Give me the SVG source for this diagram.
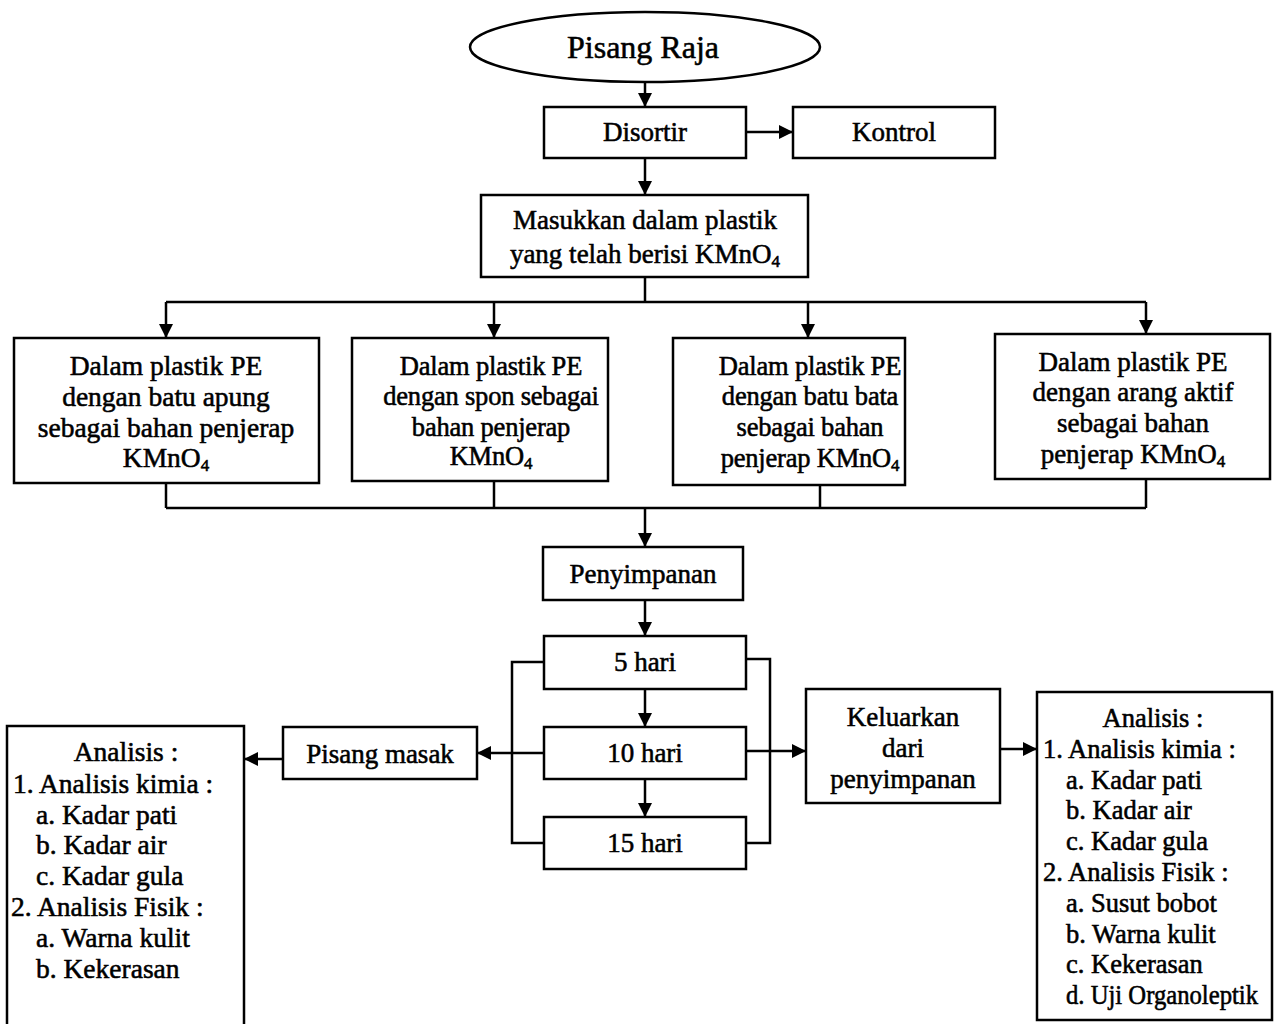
<svg xmlns="http://www.w3.org/2000/svg" width="1279" height="1024" viewBox="0 0 1279 1024">
<style>
.b{fill:#fff;stroke:#000;stroke-width:2.5}
.t{font-family:"Liberation Serif","Times New Roman",serif;font-size:27px;fill:#000;text-anchor:middle;stroke:#000;stroke-width:0.55}
.a{font-size:27.5px}
.r{font-size:26.5px}
.n{font-size:26.5px;letter-spacing:-0.2px}
.l{text-anchor:start}
.c{fill:none;stroke:#000;stroke-width:2.5}
.s{font-size:17px}
</style>
<defs>
<marker id="ah" viewBox="0 0 14 14" refX="14" refY="7" markerWidth="14" markerHeight="14" orient="auto" markerUnits="userSpaceOnUse"><path d="M0,0 L14,7 L0,14 z" fill="#000"/></marker>
</defs>
<rect width="1279" height="1024" fill="#fff"/>
<g id="connectors">
<line class="c" x1="645" y1="82" x2="645" y2="107" marker-end="url(#ah)"/>
<line class="c" x1="746" y1="132" x2="793" y2="132" marker-end="url(#ah)"/>
<line class="c" x1="645" y1="158" x2="645" y2="195" marker-end="url(#ah)"/>
<polyline class="c" points="645,277 645,302"/>
<line class="c" x1="166" y1="302" x2="1146" y2="302"/>
<line class="c" x1="166" y1="302" x2="166" y2="338" marker-end="url(#ah)"/>
<line class="c" x1="494" y1="302" x2="494" y2="338" marker-end="url(#ah)"/>
<line class="c" x1="808" y1="302" x2="808" y2="338" marker-end="url(#ah)"/>
<line class="c" x1="1146" y1="302" x2="1146" y2="334" marker-end="url(#ah)"/>
<line class="c" x1="166" y1="483" x2="166" y2="508"/>
<line class="c" x1="494" y1="481" x2="494" y2="508"/>
<line class="c" x1="820" y1="485" x2="820" y2="508"/>
<line class="c" x1="1146" y1="479" x2="1146" y2="508"/>
<line class="c" x1="166" y1="508" x2="1146" y2="508"/>
<line class="c" x1="645" y1="508" x2="645" y2="547" marker-end="url(#ah)"/>
<line class="c" x1="645" y1="600" x2="645" y2="636" marker-end="url(#ah)"/>
<line class="c" x1="645" y1="689" x2="645" y2="727" marker-end="url(#ah)"/>
<line class="c" x1="645" y1="779" x2="645" y2="817" marker-end="url(#ah)"/>
<polyline class="c" points="544,662 512,662 512,843 544,843"/>
<polyline class="c" points="746,659 770,659 770,843 746,843"/>
<line class="c" x1="544" y1="753" x2="477" y2="753" marker-end="url(#ah)"/>
<line class="c" x1="746" y1="751" x2="806" y2="751" marker-end="url(#ah)"/>
<line class="c" x1="283" y1="759" x2="244" y2="759" marker-end="url(#ah)"/>
<line class="c" x1="1000" y1="749" x2="1037" y2="749" marker-end="url(#ah)"/>
</g>
<g id="pisang-raja">
<ellipse class="b" cx="645" cy="47" rx="175" ry="35"/>
<text class="t" x="643" y="58" style="font-size:32px">Pisang Raja</text>
</g>
<g id="disortir">
<rect class="b" x="544" y="107" width="202" height="51"/>
<text class="t" x="645" y="141">Disortir</text>
</g>
<g id="kontrol">
<rect class="b" x="793" y="107" width="202" height="51"/>
<text class="t" x="894" y="141">Kontrol</text>
</g>
<g id="masukkan">
<rect class="b" x="481" y="195" width="327" height="82"/>
<text class="t" x="645" y="229">Masukkan dalam plastik</text>
<text class="t" x="645" y="263">yang telah berisi KMnO<tspan class="s" dy="4">4</tspan></text>
</g>
<g id="pe-batu-apung">
<rect class="b" x="14" y="338" width="305" height="145"/>
<text class="t a" x="166" y="375">Dalam plastik PE</text>
<text class="t a" x="166" y="406">dengan batu apung</text>
<text class="t a" x="166" y="437">sebagai bahan penjerap</text>
<text class="t a" x="166" y="467">KMnO<tspan class="s" dy="4">4</tspan></text>
</g>
<g id="pe-spon">
<rect class="b" x="352" y="338" width="256" height="143"/>
<text class="t n" x="491" y="375">Dalam plastik PE</text>
<text class="t n" x="491" y="405">dengan spon sebagai</text>
<text class="t n" x="491" y="436">bahan penjerap</text>
<text class="t n" x="491" y="465">KMnO<tspan class="s" dy="4">4</tspan></text>
</g>
<g id="pe-batu-bata">
<rect class="b" x="673" y="338" width="232" height="147"/>
<text class="t n" x="810" y="375">Dalam plastik PE</text>
<text class="t n" x="810" y="405">dengan batu bata</text>
<text class="t n" x="810" y="436">sebagai bahan</text>
<text class="t n" x="810" y="467">penjerap KMnO<tspan class="s" dy="4">4</tspan></text>
</g>
<g id="pe-arang-aktif">
<rect class="b" x="995" y="334" width="275" height="145"/>
<text class="t" x="1133" y="371">Dalam plastik PE</text>
<text class="t" x="1133" y="401">dengan arang aktif</text>
<text class="t" x="1133" y="432">sebagai bahan</text>
<text class="t" x="1133" y="463">penjerap KMnO<tspan class="s" dy="4">4</tspan></text>
</g>
<g id="penyimpanan">
<rect class="b" x="543" y="547" width="200" height="53"/>
<text class="t" x="643" y="583">Penyimpanan</text>
</g>
<g id="hari-5">
<rect class="b" x="544" y="636" width="202" height="53"/>
<text class="t" x="645" y="671">5 hari</text>
</g>
<g id="hari-10">
<rect class="b" x="544" y="727" width="202" height="52"/>
<text class="t" x="645" y="762">10 hari</text>
</g>
<g id="hari-15">
<rect class="b" x="544" y="817" width="202" height="52"/>
<text class="t" x="645" y="852">15 hari</text>
</g>
<g id="pisang-masak">
<rect class="b" x="283" y="727" width="194" height="52"/>
<text class="t" x="380" y="763">Pisang masak</text>
</g>
<g id="keluarkan">
<rect class="b" x="806" y="689" width="194" height="114"/>
<text class="t" x="903" y="726">Keluarkan</text>
<text class="t" x="903" y="757">dari</text>
<text class="t" x="903" y="788">penyimpanan</text>
</g>
<g id="analisis-kiri">
<rect class="b" x="7" y="726" width="237" height="310"/>
<text class="t a" x="126" y="761">Analisis :</text>
<text class="t a l" x="13" y="793">1.  Analisis kimia :</text>
<text class="t a l" x="36" y="824">a. Kadar pati</text>
<text class="t a l" x="36" y="854">b. Kadar air</text>
<text class="t a l" x="36" y="885">c. Kadar gula</text>
<text class="t a l" x="11" y="916">2.  Analisis Fisik :</text>
<text class="t a l" x="36" y="947">a. Warna kulit</text>
<text class="t a l" x="36" y="978">b. Kekerasan</text>
</g>
<g id="analisis-kanan">
<rect class="b" x="1037" y="692" width="235" height="328"/>
<text class="t r" x="1153" y="727">Analisis :</text>
<text class="t r l" x="1043" y="758">1.  Analisis kimia :</text>
<text class="t r l" x="1066" y="789">a. Kadar pati</text>
<text class="t r l" x="1066" y="819">b. Kadar air</text>
<text class="t r l" x="1066" y="850">c. Kadar gula</text>
<text class="t r l" x="1043" y="881">2. Analisis Fisik :</text>
<text class="t r l" x="1066" y="912">a. Susut bobot</text>
<text class="t r l" x="1066" y="943">b. Warna kulit</text>
<text class="t r l" x="1066" y="973">c. Kekerasan</text>
<text class="t r l" x="1066" y="1004" textLength="192" lengthAdjust="spacingAndGlyphs">d. Uji Organoleptik</text>
</g>
</svg>
